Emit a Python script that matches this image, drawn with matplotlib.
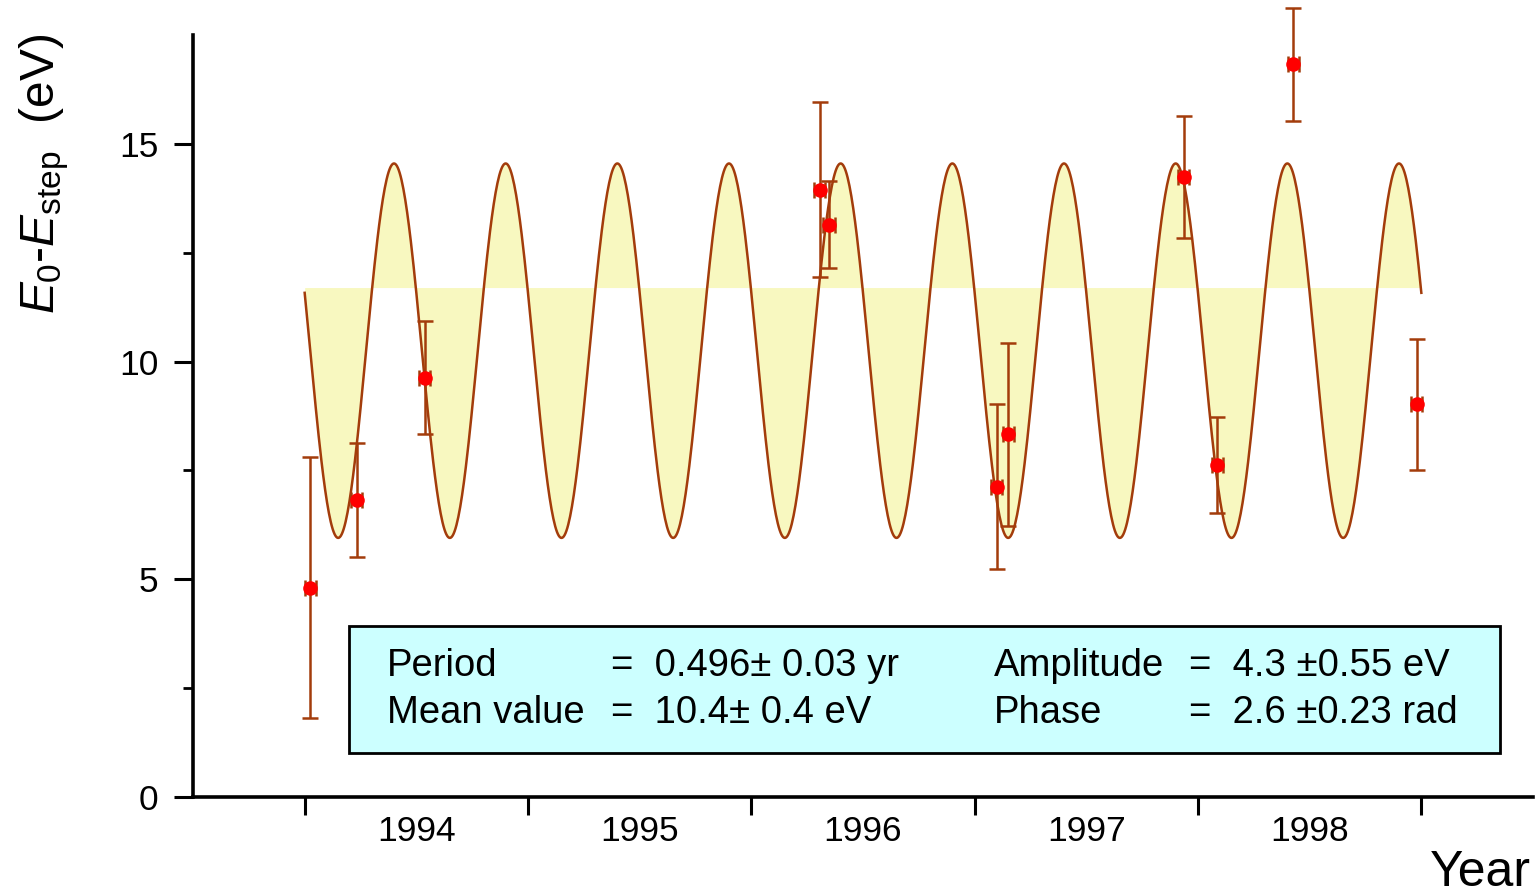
import numpy as np
import matplotlib
matplotlib.use("Agg")
import matplotlib.pyplot as plt
from matplotlib.patches import Rectangle

# ---------------- data ----------------
years = [1994.026, 1994.233, 1994.537, 1996.306, 1996.348, 1997.098,
         1997.150, 1997.936, 1998.086, 1998.426, 1998.979]
values = [4.81, 6.82, 9.63, 13.95, 13.14, 7.13, 8.33, 14.24, 7.63, 16.83, 9.02]
errors = [3.0, 1.3, 1.3, 2.0, 1.0, 1.9, 2.1, 1.4, 1.1, 1.3, 1.5]
year_err = 0.025

# fitted sinusoid (as drawn)
fit_mean = 10.25
fit_amp = 4.3
fit_period = 0.5
fit_peak = 1994.40
fit_start, fit_end = 1994.0, 1999.0
fill_base = 11.7

year_ticks = [1994, 1995, 1996, 1997, 1998, 1999]
year_labels = ["1994", "1995", "1996", "1997", "1998"]

box_rows = [
    ("Period", "=  0.496\u00b1 0.03 yr", "Amplitude", "=  4.3 \u00b10.55 eV"),
    ("Mean value", "=  10.4\u00b1 0.4 eV", "Phase", "=  2.6 \u00b10.23 rad"),
]

# ---------------- style ----------------
plt.rcParams['font.family'] = ['Liberation Sans', 'DejaVu Sans']
plt.rcParams['mathtext.fontset'] = 'custom'
plt.rcParams['mathtext.rm'] = 'Liberation Sans'
plt.rcParams['mathtext.it'] = 'Liberation Sans:italic'

BROWN = '#a33c0b'
YELLOW = '#f8f8c0'
CYAN = '#ccffff'

W, H = 1536, 893
fig = plt.figure(figsize=(W / 100, H / 100), dpi=100)
ax = fig.add_axes([193 / W, 1 - 797 / H, (1533 - 193) / W, (797 - 35) / H])

t = np.linspace(fit_start, fit_end, 1200)
curve = fit_mean + fit_amp * np.cos(2 * np.pi * (t - fit_peak) / fit_period)
ax.fill_between(t, curve, fill_base, color=YELLOW, linewidth=0, zorder=1)
ax.plot(t, curve, color=BROWN, lw=1.8, zorder=2)

eb = ax.errorbar(years, values, yerr=errors, xerr=year_err, fmt='none',
                 ecolor=BROWN, elinewidth=1.8, capsize=6, capthick=1.8, zorder=3)
for art in eb.get_children():
    art.set_clip_on(False)
ax.plot(years, values, 'o', color='#ff0000', markersize=10.5, mec='none', zorder=4,
        clip_on=False)

ax.set_xlim(1993.5, 1999.5)
ax.set_ylim(0, 17.5)

for s in ['top', 'right']:
    ax.spines[s].set_visible(False)
for s in ['left', 'bottom']:
    ax.spines[s].set_linewidth(2.6)

ax.set_yticks([0, 5, 10, 15])
ax.set_yticks(np.arange(2.5, 17.5, 5), minor=True)
ax.tick_params(axis='y', which='major', direction='out', length=14, width=2.2,
               labelsize=25.5, pad=11)
ax.tick_params(axis='y', which='minor', direction='out', length=7, width=2.0)

ax.set_xticks(year_ticks)
ax.set_xticklabels([""] * len(year_ticks))
ax.set_xticks([y + 0.5 for y in year_ticks[:-1]], minor=True)
ax.set_xticklabels(year_labels, minor=True)
ax.tick_params(axis='x', which='major', direction='out', length=13, width=2.2)
ax.tick_params(axis='x', which='minor', length=0, labelsize=25.5, pad=13)

# text box
ax.add_patch(Rectangle(((349 - 193) / 1340, (797 - 753) / 762), 1151 / 1340, 127 / 762,
                       transform=ax.transAxes, facecolor=CYAN, edgecolor='black',
                       lw=2.0, zorder=5))

def ftext(x, y, s, **kw):
    fig.text(x / W, 1 - y / H, s, **kw)

fs = 27.5
baselines = [676, 723]
for (a, b, c, d), yb in zip(box_rows, baselines):
    ftext(387, yb, a, fontsize=fs, va='baseline', ha='left', zorder=6)
    ftext(611, yb, b, fontsize=fs, va='baseline', ha='left', zorder=6)
    ftext(994, yb, c, fontsize=fs, va='baseline', ha='left', zorder=6)
    ftext(1189, yb, d, fontsize=fs, va='baseline', ha='left', zorder=6)

# axis labels
ftext(44, 174, r'$E_0$-$E_{\rm step}$  (eV)', fontsize=34.5, rotation=90,
      ha='center', va='center')
ftext(1531, 886, 'Year', fontsize=36, ha='right', va='baseline')

fig.savefig('out.png', dpi=100)
